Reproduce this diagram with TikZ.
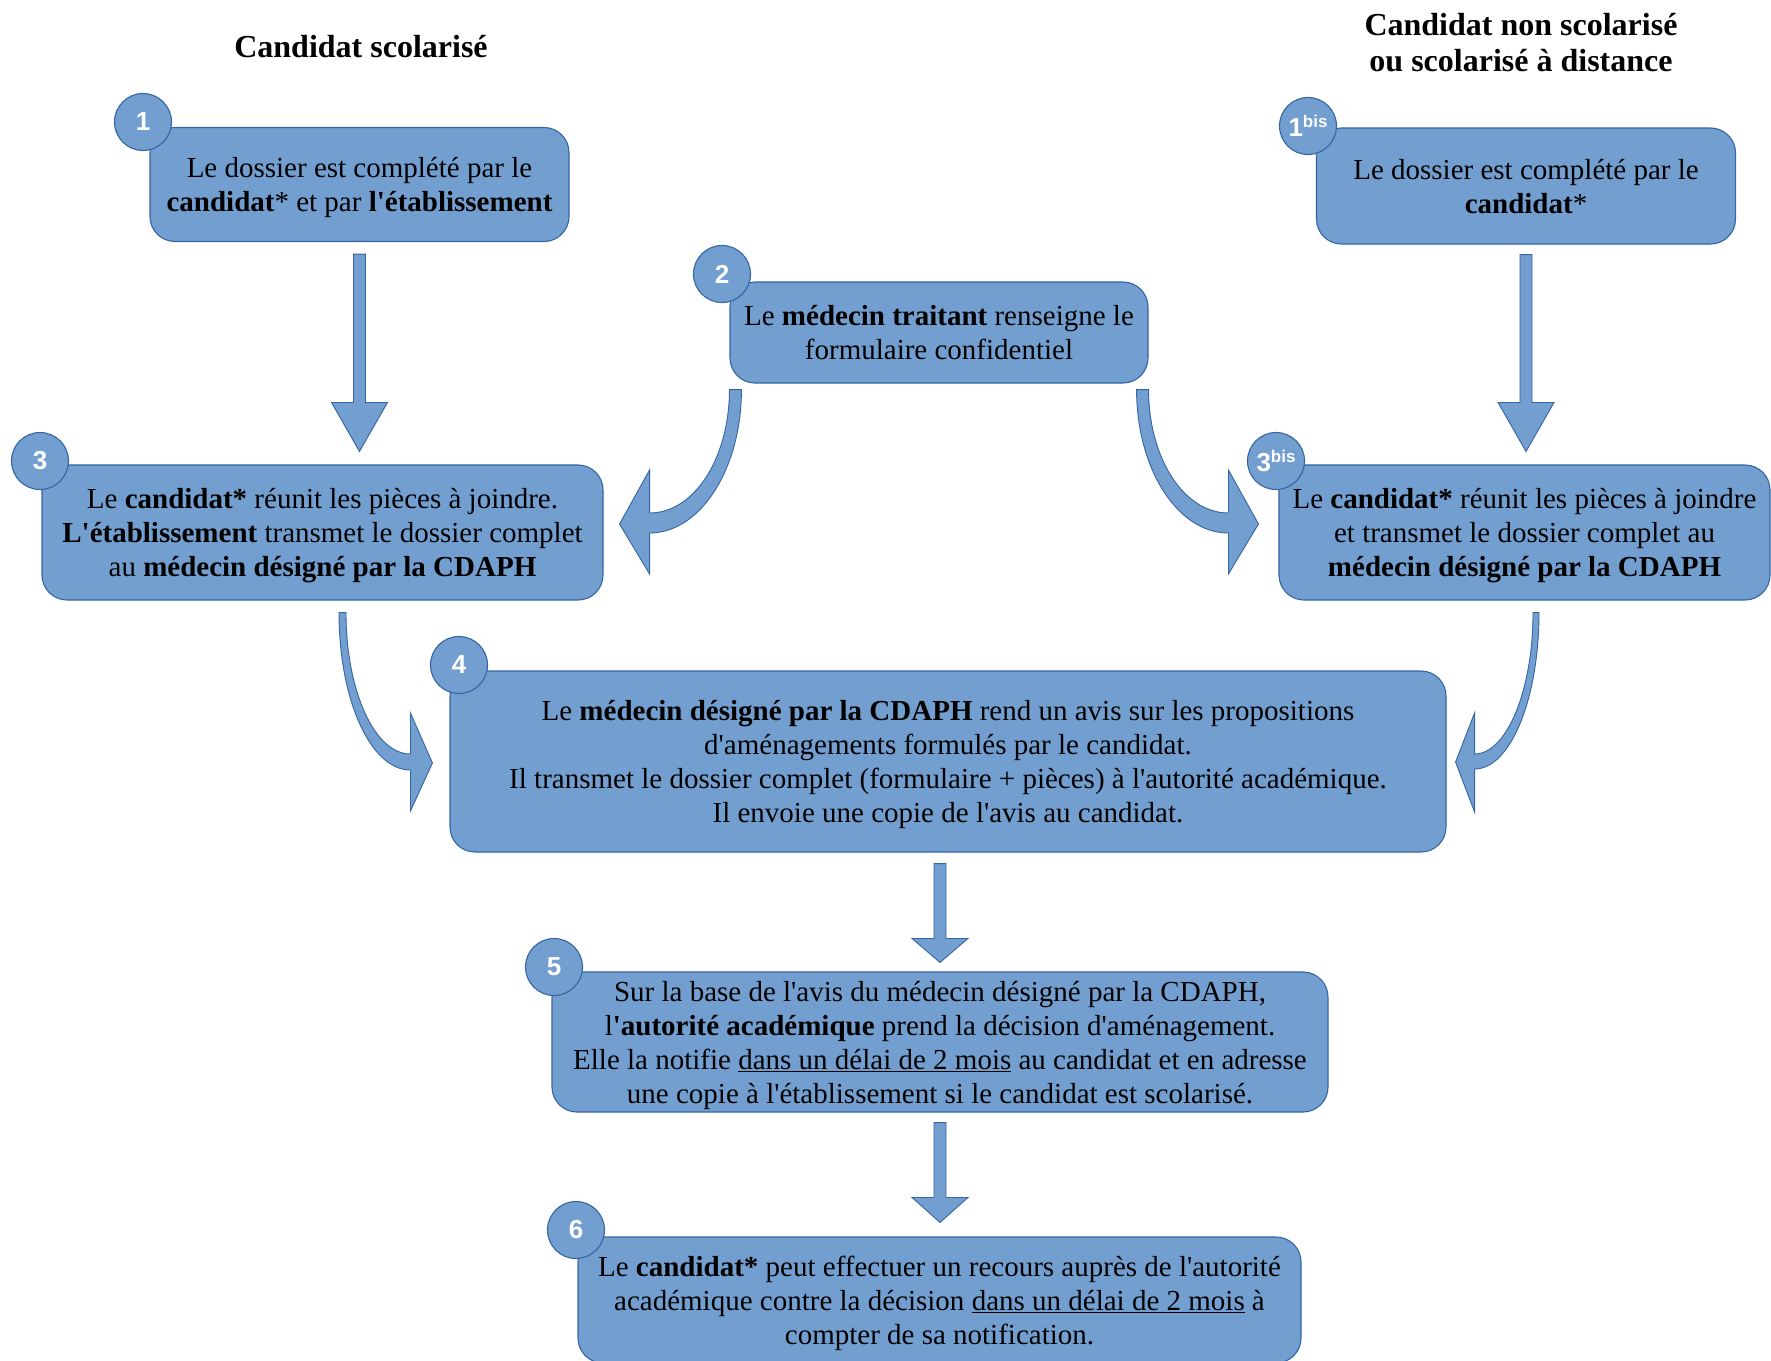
\documentclass[tikz,border=0pt]{standalone}
\usepackage{fontspec}
\setmainfont{Liberation Serif}[Ligatures=TeXOff]
\newfontfamily\badgefont{Liberation Sans}
\usetikzlibrary{calc}
\definecolor{boxfill}{HTML}{729FCF}
\definecolor{boxline}{HTML}{3465A4}
\tikzset{
  stepbox/.style={draw=boxline, fill=boxfill, line width=1.1pt, rounded corners=25pt,
    align=center, inner sep=2pt, text depth=0pt, font=\fontsize{29}{34}\selectfont},
  badge/.style={circle, draw=boxline, fill=boxfill, line width=1.1pt, minimum size=57pt,
    inner sep=0pt, text=white, font=\badgefont\bfseries\fontsize{26}{26}\selectfont},
  blk/.style={draw=boxline, fill=boxfill, line width=0.9pt, line join=miter},
  titletext/.style={align=center, font=\bfseries\fontsize{32}{36}\selectfont},
}
\newcommand{\blockdown}[3]{%
  \filldraw[blk] let \p1=(#1), \p2=(#2) in
    (\x1-6pt,\y1) -- (\x1+6pt,\y1) -- (\x1+6pt,\y2+#3) -- (\x1+28pt,\y2+#3)
    -- (\x1,\y2) -- (\x1-28pt,\y2+#3) -- (\x1-6pt,\y2+#3) -- cycle;}
\newcommand{\bisbadge}[1]{#1\raisebox{8.5pt}{\fontsize{17}{17}\selectfont bis}}
\begin{document}
\begin{tikzpicture}[x=1pt, y=-1pt]
\fill[white] (0,0) rectangle (1771,1360);
\useasboundingbox (0,0) rectangle (1771,1360);

% titles
\node[titletext] (t1) at (361,47) {Candidat scolarisé};
\node[titletext] (t2) at (1521,43) {Candidat non scolarisé\\ou scolarisé à distance};

% boxes
\node[stepbox, minimum width=419pt, minimum height=114pt] (b1) at (359.5,184.5)
  {Le dossier est complété par le\\\textbf{candidat}* et par \textbf{l'établissement}};
\node[stepbox, minimum width=419pt, minimum height=116pt] (b1bis) at (1526,186)
  {Le dossier est complété par le\\\textbf{candidat}*};
\node[stepbox, minimum width=418pt, minimum height=101pt] (b2) at (939,332.5)
  {Le \textbf{médecin traitant} renseigne le\\formulaire confidentiel};
\node[stepbox, minimum width=561pt, minimum height=135pt] (b3) at (322.5,532.5)
  {Le \textbf{candidat*} réunit les pièces à joindre.\\\textbf{L'établissement} transmet le dossier complet\\au \textbf{médecin désigné par la CDAPH}};
\node[stepbox, minimum width=491pt, minimum height=135pt] (b3bis) at (1524.5,532.5)
  {Le \textbf{candidat*} réunit les pièces à joindre\\et transmet le dossier complet au\\\textbf{médecin désigné par la CDAPH}};
\node[stepbox, minimum width=996pt, minimum height=181pt] (b4) at (948,761.5)
  {Le \textbf{médecin désigné par la CDAPH} rend un avis sur les propositions\\d'aménagements formulés par le candidat.\\Il transmet le dossier complet (formulaire + pièces) à l'autorité académique.\\Il envoie une copie de l'avis au candidat.};
\node[stepbox, minimum width=776pt, minimum height=140pt] (b5) at (940,1042)
  {Sur la base de l'avis du médecin désigné par la CDAPH,\\l\textbf{'autorité académique} prend la décision d'aménagement.\\Elle la notifie \underline{dans un délai de 2 mois} au candidat et en adresse\\une copie à l'établissement si le candidat est scolarisé.};
\node[stepbox, minimum width=723pt, minimum height=126pt] (b6) at (939.5,1300)
  {Le \textbf{candidat*} peut effectuer un recours auprès de l'autorité\\académique contre la décision \underline{dans un délai de 2 mois} à\\compter de sa notification.};

% badges
\node[badge] (n1) at (143,122) {1};
\node[badge] (n1bis) at (1308,126) {\bisbadge{1}};
\node[badge] (n2) at (722,274) {2};
\node[badge] (n3) at (40,461) {3};
\node[badge] (n3bis) at (1276,461) {\bisbadge{3}};
\node[badge] (n4) at (459,665) {4};
\node[badge] (n5) at (554,967) {5};
\node[badge] (n6) at (576,1230) {6};

% straight block arrows
\coordinate (a13s) at ($(b1.south)+(0,12)$);
\coordinate (a13t) at ($(b1.south |- b3.north)+(0,-13)$);
\blockdown{a13s}{a13t}{49pt}
\coordinate (a1bs) at ($(b1bis.south)+(0,10)$);
\coordinate (a1bt) at ($(b1bis.south |- b3bis.north)+(0,-13)$);
\blockdown{a1bs}{a1bt}{49pt}
\coordinate (a45s) at ($(b5.north |- b4.south)+(0,11)$);
\coordinate (a45t) at ($(b5.north)+(0,-9)$);
\blockdown{a45s}{a45t}{24pt}
\coordinate (a56s) at ($(b5.south)+(0,10)$);
\coordinate (a56t) at ($(b5.south |- b6.north)+(0,-14)$);
\blockdown{a56s}{a56t}{25pt}

% curved block arrows
\coordinate (s23) at ($(b2.south west)+(6,6)$);
\coordinate (t23) at ($(b3.east)+(16,-8.5)$);
\filldraw[blk] ($(s23)+(-6,0)$) .. controls ($(s23)+(-6,68)$) and ($(t23)+(75,-11)$) .. ($(t23)+(30,-11)$)
  -- ($(t23)+(30,-54)$) -- (t23) -- ($(t23)+(30,50)$) -- ($(t23)+(30,9)$)
  .. controls ($(t23)+(81,9)$) and ($(s23)+(6,79)$) .. ($(s23)+(6,0)$) -- cycle;

\coordinate (s2b) at ($(b2.south east)+(-6,6)$);
\coordinate (t2b) at ($(b3bis.west)+(-20,-8.5)$);
\filldraw[blk] ($(s2b)+(6,0)$) .. controls ($(s2b)+(6,68)$) and ($(t2b)+(-75,-11)$) .. ($(t2b)+(-30,-11)$)
  -- ($(t2b)+(-30,-54)$) -- (t2b) -- ($(t2b)+(-30,50)$) -- ($(t2b)+(-30,9)$)
  .. controls ($(t2b)+(-81,9)$) and ($(s2b)+(-6,79)$) .. ($(s2b)+(-6,0)$) -- cycle;

\coordinate (s34) at ($(b3.south)+(20,12)$);
\coordinate (t34) at ($(b4.west)+(-17,1.5)$);
\filldraw[blk] ($(s34)+(-3.5,0)$) .. controls ($(s34)+(-3.5,87)$) and ($(t34)+(-62,7)$) .. ($(t34)+(-22,7)$)
  -- ($(t34)+(-22,48)$) -- (t34) -- ($(t34)+(-22,-50)$) -- ($(t34)+(-22,-9)$)
  .. controls ($(t34)+(-58,-9)$) and ($(s34)+(3.5,78)$) .. ($(s34)+(3.5,0)$) -- cycle;

\coordinate (s3b4) at ($(b3bis.south)+(11.5,12)$);
\coordinate (t3b4) at ($(b4.east)+(9,0.5)$);
\filldraw[blk] ($(s3b4)+(3,0)$) .. controls ($(s3b4)+(3,86)$) and ($(t3b4)+(55,7)$) .. ($(t3b4)+(19,7)$)
  -- ($(t3b4)+(19,50)$) -- (t3b4) -- ($(t3b4)+(19,-49)$) -- ($(t3b4)+(19,-8)$)
  .. controls ($(t3b4)+(51,-8)$) and ($(s3b4)+(-3,78)$) .. ($(s3b4)+(-3,0)$) -- cycle;
\end{tikzpicture}
\end{document}
